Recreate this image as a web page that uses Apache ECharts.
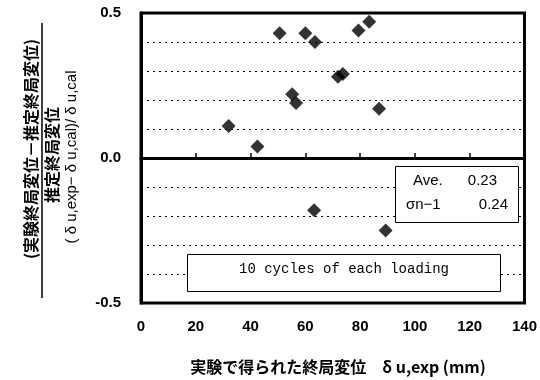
<!DOCTYPE html>
<html>
<head>
<meta charset="utf-8">
<script src="https://cdn.jsdelivr.net/npm/echarts@6/dist/echarts.min.js"></script>
<style>
  html, body { margin: 0; padding: 0; background: #fff; }
  #chart { width: 540px; height: 380px; }
</style>
</head>
<body>
<div id="chart"></div>
<script>
// Experimental ultimate displacement (mm)
const dispExp = [32, 42.5, 50.6, 55.2, 56.6, 60.0, 63.5, 63.2, 71.9, 73.7, 79.4, 83.3, 86.9, 89.3];
// (δu,exp − δu,cal) / δu,cal
const ratio = [0.11, 0.04, 0.43, 0.22, 0.19, 0.43, 0.40, -0.18, 0.28, 0.29, 0.44, 0.47, 0.17, -0.25];

const xTicks = { min: 0, max: 140, step: 20 };
const yTicks = { min: -0.5, max: 0.5, step: 0.1 };
const yLabelled = [-0.5, 0, 0.5];

const statLabels = ['Ave.', 'σn−1'];
const statValues = ['0.23', '0.24'];
const noteText = '10 cycles of each loading';

const numFont = '"Liberation Sans", Arial, sans-serif';
const jpFont = '"Noto Sans CJK JP", sans-serif';

const chart = echarts.init(document.getElementById('chart'), null, { renderer: 'canvas' });

const points = dispExp.map((x, i) => [x, ratio[i]]);

chart.setOption({
  animation: false,
  backgroundColor: '#fff',
  grid: {
    left: 141, right: 10, top: 13, bottom: 77,
    show: true, borderColor: '#000', borderWidth: 3, backgroundColor: 'transparent'
  },
  xAxis: {
    type: 'value',
    min: xTicks.min, max: xTicks.max, interval: xTicks.step,
    axisLine: { show: true, lineStyle: { color: '#000', width: 3 } },
    axisTick: { show: true, inside: true, length: 5, lineStyle: { color: '#000', width: 1.5 } },
    axisLabel: { color: '#000', fontFamily: numFont, fontWeight: 'bold', fontSize: 15, margin: 16 },
    splitLine: { show: false }
  },
  yAxis: {
    type: 'value',
    min: yTicks.min, max: yTicks.max, interval: yTicks.step,
    axisLine: { show: true, lineStyle: { color: '#000', width: 3 } },
    axisTick: { show: false },
    axisLabel: {
      color: '#000', fontFamily: numFont, fontWeight: 'bold', fontSize: 15, margin: 20,
      formatter: v => yLabelled.some(t => Math.abs(t - v) < 1e-6) ? Number(v).toFixed(1) : ''
    },
    splitLine: { show: true, lineStyle: { color: '#000', width: 1.2, type: [2, 4] } }
  },
  series: [{
    type: 'scatter',
    data: points,
    symbol: 'diamond',
    symbolSize: 14,
    itemStyle: { color: '#000' },
    markLine: {
      silent: true,
      symbol: 'none',
      label: { show: false },
      lineStyle: { color: '#000', width: 2.5, type: 'solid' },
      data: [{ yAxis: 0 }]
    }
  }],
  graphic: [
    // Y-axis title: fraction with a rule, plus its symbolic form
    {
      type: 'text', x: 31, y: 149, rotation: Math.PI / 2,
      style: { text: '(実験終局変位－推定終局変位)', font: 'bold 16px ' + jpFont, fill: '#000', align: 'center', verticalAlign: 'middle' }
    },
    {
      type: 'line', shape: { x1: 42, y1: 23, x2: 42, y2: 298 },
      style: { stroke: '#000', lineWidth: 1.5 }
    },
    {
      type: 'text', x: 52, y: 155, rotation: Math.PI / 2,
      style: { text: '推定終局変位', font: 'bold 16px ' + jpFont, fill: '#000', align: 'center', verticalAlign: 'middle' }
    },
    {
      type: 'text', x: 72, y: 157, rotation: Math.PI / 2,
      style: { text: '( δ u,exp− δ u,cal)/ δ u,cal', font: '15px ' + numFont, fill: '#000', align: 'center', verticalAlign: 'middle' }
    },
    // X-axis title
    {
      type: 'text', x: 338, y: 367,
      style: { text: '実験で得られた終局変位　δ u,exp (mm)', font: 'bold 16px ' + jpFont, fill: '#000', align: 'center', verticalAlign: 'middle' }
    },
    // Statistics box
    {
      type: 'rect', shape: { x: 395.5, y: 166.5, width: 123, height: 56 },
      style: { fill: '#fff', stroke: '#000', lineWidth: 1 }, z: 10
    },
    {
      type: 'text', x: 413, y: 181, z: 11,
      style: { text: statLabels[0], font: '15px ' + numFont, fill: '#000', align: 'left', verticalAlign: 'middle' }
    },
    {
      type: 'text', x: 497, y: 181, z: 11,
      style: { text: statValues[0], font: '15px ' + numFont, fill: '#000', align: 'right', verticalAlign: 'middle' }
    },
    {
      type: 'text', x: 406, y: 205, z: 11,
      style: { text: statLabels[1], font: '15px ' + numFont, fill: '#000', align: 'left', verticalAlign: 'middle' }
    },
    {
      type: 'text', x: 508, y: 205, z: 11,
      style: { text: statValues[1], font: '15px ' + numFont, fill: '#000', align: 'right', verticalAlign: 'middle' }
    },
    // Loading note box
    {
      type: 'rect', shape: { x: 187.5, y: 254.5, width: 313, height: 37 },
      style: { fill: '#fff', stroke: '#000', lineWidth: 1 }, z: 10
    },
    {
      type: 'text', x: 344, y: 269, z: 11,
      style: { text: noteText, font: '14px "Liberation Mono", monospace', fill: '#000', align: 'center', verticalAlign: 'middle' }
    }
  ]
});
</script>
</body>
</html>
